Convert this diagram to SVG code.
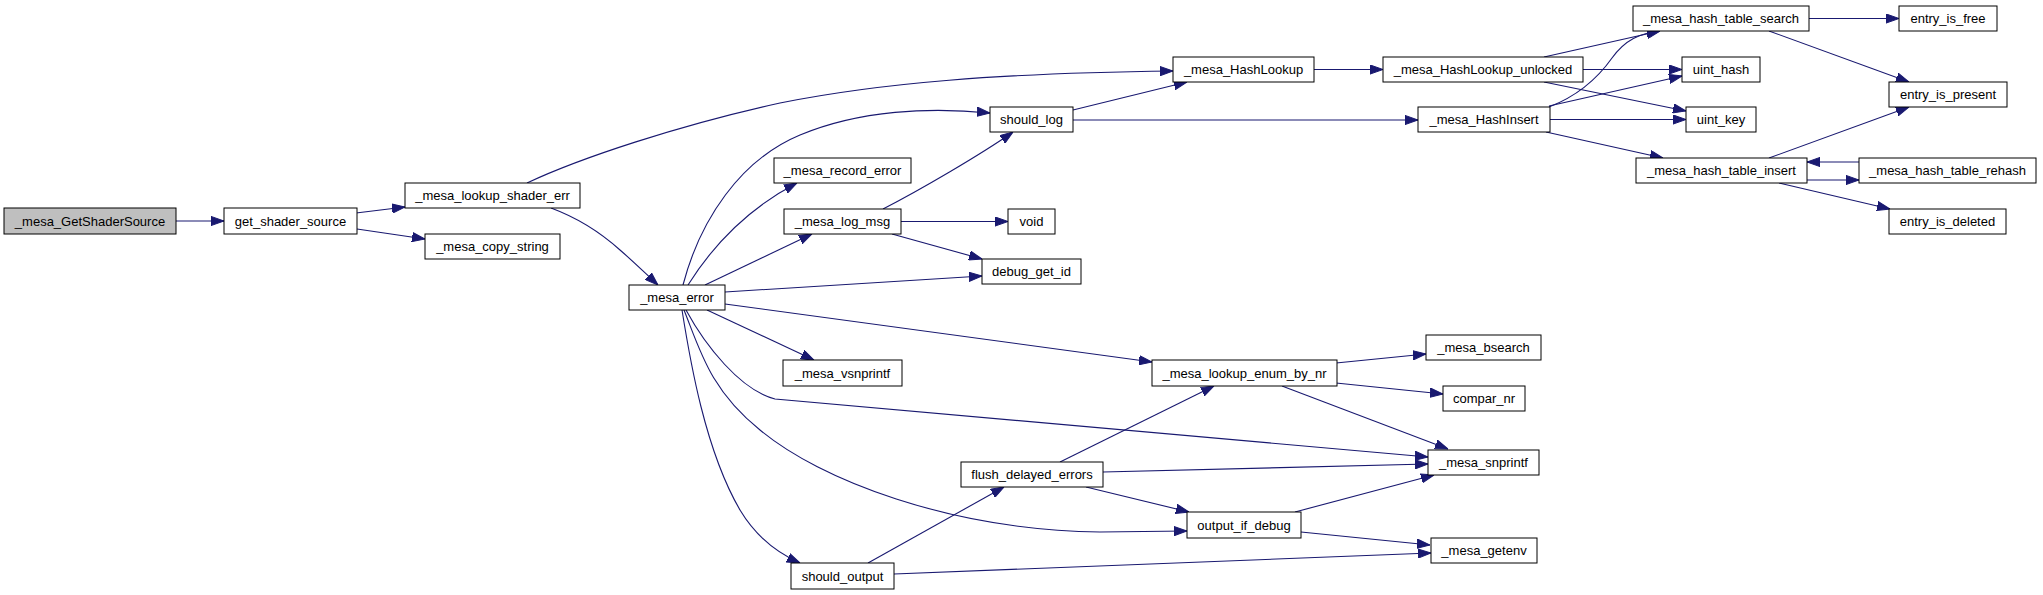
<svg xmlns="http://www.w3.org/2000/svg" width="2043" height="595" viewBox="0 0 2043 595">
<style>
.n rect{fill:#fff;stroke:#000;stroke-width:1}
.n text{font-family:"Liberation Sans",Arial,sans-serif;font-size:13px;text-anchor:middle;fill:#000}
#n0 rect{fill:#bfbfbf}
.e path{fill:none;stroke:#191970;stroke-width:1.1;marker-end:url(#a)}
</style>
<defs>
<marker id="a" markerWidth="13" markerHeight="10" refX="13" refY="5" orient="auto" markerUnits="userSpaceOnUse">
<path d="M0,0.4 L13,5 L0,9.6z" fill="#191970" stroke="#191970" stroke-width="1"/>
</marker>
</defs>
<rect width="2043" height="595" fill="#fff"/>
<g id="edges" class="e">
<path d="M176,221 L224,221"/>
<path d="M356,213 L405,207"/>
<path d="M357,229 L425,239"/>
<path d="M551,208 C578,218 600,232 620,250 C635,263 646,274 658,285"/>
<path d="M527,183 C580,158 680,125 780,103 C880,83 1000,73 1173,71"/>
<path d="M683,285 C700,220 740,160 800,135 C860,110 930,107 990,113"/>
<path d="M688,285 C710,250 745,210 797,183"/>
<path d="M705,285 L812,234"/>
<path d="M725,292 L982,276"/>
<path d="M707,310 L814,360"/>
<path d="M725,304 L1152,362"/>
<path d="M686,310 C705,345 740,390 775,399 L1428,457"/>
<path d="M684,310 C700,350 710,390 760,430 C820,480 950,530 1100,532 L1187,531"/>
<path d="M682,310 C690,360 705,450 740,510 C755,535 775,552 800,563"/>
<path d="M883,209 C920,190 980,155 1013,132"/>
<path d="M901,221.5 L1008,221.5"/>
<path d="M892,234 L982,259"/>
<path d="M1073,110 L1187,82"/>
<path d="M1073,120 L1418,120"/>
<path d="M1314,69.5 L1383,69.5"/>
<path d="M1544,57 L1660,31"/>
<path d="M1583,69.5 L1682,69.5"/>
<path d="M1544,82 L1686,111"/>
<path d="M1549,107 C1580,95 1600,75 1612,58 C1625,40 1640,33 1660,31"/>
<path d="M1549,106 L1682,76"/>
<path d="M1550,119.5 L1686,119.5"/>
<path d="M1546,132 L1663,158"/>
<path d="M1809,18.5 L1899,18.5"/>
<path d="M1769,31 L1909,82"/>
<path d="M1769,158 L1909,107"/>
<path d="M1859,162 L1807,162"/>
<path d="M1807,180 L1859,180"/>
<path d="M1779,183 L1890,209"/>
<path d="M868,563 L1004,487"/>
<path d="M894,574 L1431,553"/>
<path d="M1060,462 L1214,386"/>
<path d="M1103,472 L1428,464"/>
<path d="M1086,487 L1189,512"/>
<path d="M1295,512 L1434,475"/>
<path d="M1301,532 L1430,545"/>
<path d="M1336,363 L1426,354"/>
<path d="M1336,383 L1443,394"/>
<path d="M1282,386 L1448,449"/>
</g>
<g id="n0" class="n"><rect x="4" y="208" width="172" height="26"/><text x="90" y="225.5">_mesa_GetShaderSource</text></g>
<g id="n1" class="n"><rect x="224" y="208" width="133" height="26"/><text x="290.5" y="225.5">get_shader_source</text></g>
<g id="n2" class="n"><rect x="405" y="183" width="175" height="25"/><text x="492.5" y="200">_mesa_lookup_shader_err</text></g>
<g id="n3" class="n"><rect x="425" y="234" width="135" height="25"/><text x="492.5" y="251">_mesa_copy_string</text></g>
<g id="n4" class="n"><rect x="629" y="285" width="96" height="25"/><text x="677" y="302">_mesa_error</text></g>
<g id="n5" class="n"><rect x="1173" y="57" width="141" height="25"/><text x="1243.5" y="74">_mesa_HashLookup</text></g>
<g id="n6" class="n"><rect x="990" y="107" width="83" height="25"/><text x="1031.5" y="124">should_log</text></g>
<g id="n7" class="n"><rect x="774" y="158" width="137" height="25"/><text x="842.5" y="175">_mesa_record_error</text></g>
<g id="n8" class="n"><rect x="784" y="209" width="117" height="25"/><text x="842.5" y="226">_mesa_log_msg</text></g>
<g id="n9" class="n"><rect x="1008" y="209" width="47" height="25"/><text x="1031.5" y="226">void</text></g>
<g id="n10" class="n"><rect x="982" y="259" width="99" height="25"/><text x="1031.5" y="276">debug_get_id</text></g>
<g id="n11" class="n"><rect x="783" y="360" width="119" height="26"/><text x="842.5" y="377.5">_mesa_vsnprintf</text></g>
<g id="n12" class="n"><rect x="1152" y="360" width="185" height="26"/><text x="1244.5" y="377.5">_mesa_lookup_enum_by_nr</text></g>
<g id="n13" class="n"><rect x="961" y="462" width="142" height="25"/><text x="1032" y="479">flush_delayed_errors</text></g>
<g id="n14" class="n"><rect x="791" y="563" width="103" height="26"/><text x="842.5" y="580.5">should_output</text></g>
<g id="n15" class="n"><rect x="1187" y="512" width="114" height="26"/><text x="1244" y="529.5">output_if_debug</text></g>
<g id="n16" class="n"><rect x="1426" y="335" width="115" height="25"/><text x="1483.5" y="352">_mesa_bsearch</text></g>
<g id="n17" class="n"><rect x="1443" y="386" width="82" height="25"/><text x="1484" y="403">compar_nr</text></g>
<g id="n18" class="n"><rect x="1428" y="450" width="111" height="25"/><text x="1483.5" y="467">_mesa_snprintf</text></g>
<g id="n19" class="n"><rect x="1431" y="538" width="106" height="25"/><text x="1484" y="555">_mesa_getenv</text></g>
<g id="n20" class="n"><rect x="1383" y="57" width="200" height="25"/><text x="1483" y="74">_mesa_HashLookup_unlocked</text></g>
<g id="n21" class="n"><rect x="1418" y="107" width="132" height="25"/><text x="1484" y="124">_mesa_HashInsert</text></g>
<g id="n22" class="n"><rect x="1633" y="6" width="176" height="25"/><text x="1721" y="23">_mesa_hash_table_search</text></g>
<g id="n23" class="n"><rect x="1899" y="6" width="98" height="25"/><text x="1948" y="23">entry_is_free</text></g>
<g id="n24" class="n"><rect x="1682" y="57" width="78" height="25"/><text x="1721" y="74">uint_hash</text></g>
<g id="n25" class="n"><rect x="1686" y="107" width="70" height="25"/><text x="1721" y="124">uint_key</text></g>
<g id="n26" class="n"><rect x="1889" y="82" width="118" height="25"/><text x="1948" y="99">entry_is_present</text></g>
<g id="n27" class="n"><rect x="1636" y="158" width="171" height="25"/><text x="1721.5" y="175">_mesa_hash_table_insert</text></g>
<g id="n28" class="n"><rect x="1859" y="158" width="177" height="25"/><text x="1947.5" y="175">_mesa_hash_table_rehash</text></g>
<g id="n29" class="n"><rect x="1889" y="209" width="117" height="25"/><text x="1947.5" y="226">entry_is_deleted</text></g>
</svg>
